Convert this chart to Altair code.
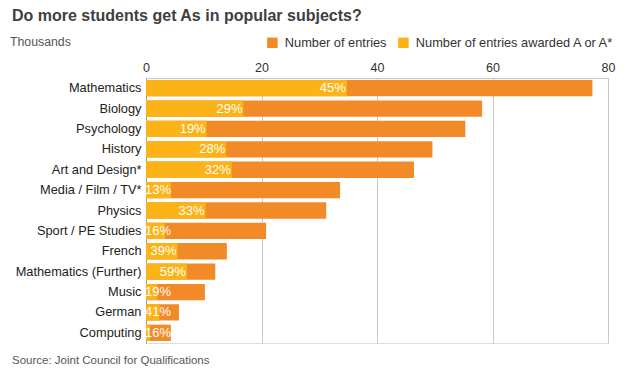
import altair as alt
import pandas as pd

subjects = ["Mathematics", "Biology", "Psychology", "History", "Art and Design*",
            "Media / Film / TV*", "Physics", "Sport / PE Studies", "French",
            "Mathematics (Further)", "Music", "German", "Computing"]
entries = [77.3, 58.2, 55.3, 49.6, 46.4, 33.6, 31.2, 20.8, 14.0, 12.0, 10.2, 5.7, 4.3]
pct_a = [45, 29, 19, 28, 32, 13, 33, 16, 39, 59, 19, 41, 16]
series = ["Number of entries", "Number of entries awarded A or A*"]
colors = ["#F28A27", "#FBB317"]
x_ticks = [0, 20, 40, 60, 80]

FONT = "Liberation Sans"

df = pd.DataFrame({"subject": subjects, "entries": entries, "pct": pct_a})
df["s_all"] = series[0]
df["s_a"] = series[1]

W, H = 462, 265

base = alt.Chart(df).transform_calculate(
    awarded="datum.entries * datum.pct / 100",
    labx="max(datum.entries * datum.pct / 100, 4.5)",
    lab="datum.pct + '%'",
)

yenc = alt.Y("subject:N", sort=subjects, title=None,
             scale=alt.Scale(paddingInner=0.2, paddingOuter=0.1),
             axis=alt.Axis(labelFont=FONT, labelFontSize=12.8, labelColor="#222222",
                           labelPadding=5, ticks=False, domainColor="#9a9a9a",
                           labelLimit=200))
xscale = alt.Scale(domain=[0, 80], nice=False)
xenc_axis = alt.Axis(orient="top", values=x_ticks, labelFont=FONT, labelFontSize=12.5,
                     labelColor="#333333", ticks=False, labelPadding=4,
                     grid=True, gridColor="#c8c8c8", domainColor="#c8c8c8",
                     labelFlush=False)
cscale = alt.Scale(domain=series, range=colors)
legend = alt.Legend(orient="none", legendX=120, legendY=-42, direction="horizontal",
                    title=None, symbolType="square", symbolSize=110,
                    symbolStrokeWidth=0, labelFont=FONT, labelFontSize=12.8,
                    labelColor="#333333", columnPadding=10, labelOffset=6,
                    labelLimit=400)

bars_all = base.mark_bar().encode(
    x=alt.X("entries:Q", scale=xscale, axis=xenc_axis, title=None),
    y=yenc,
    color=alt.Color("s_all:N", scale=cscale, legend=legend),
)
bars_a = base.mark_bar().encode(
    x=alt.X("awarded:Q", scale=xscale),
    y=alt.Y("subject:N", sort=subjects),
    color=alt.Color("s_a:N", scale=cscale, legend=legend),
)
labels = base.mark_text(align="right", baseline="middle", dx=-1, font=FONT,
                        fontSize=13, color="#ffffff").encode(
    x=alt.X("labx:Q", scale=xscale),
    y=alt.Y("subject:N", sort=subjects),
    text="lab:N",
)

title_df = pd.DataFrame({"t": ["Do more students get As in popular subjects?"]})
title = alt.Chart(title_df).mark_text(align="left", baseline="alphabetic", font=FONT,
                                       fontSize=16, fontWeight="bold",
                                       color="#404040").encode(
    x=alt.value(-134), y=alt.value(-57), text="t:N")
unit_df = pd.DataFrame({"t": ["Thousands"]})
unit = alt.Chart(unit_df).mark_text(align="left", baseline="middle", font=FONT,
                                     fontSize=12.3, color="#555555").encode(
    x=alt.value(-136), y=alt.value(-36), text="t:N")
src_df = pd.DataFrame({"t": ["Source: Joint Council for Qualifications"]})
src = alt.Chart(src_df).mark_text(align="left", baseline="middle", font=FONT,
                                   fontSize=11.5, color="#555555").encode(
    x=alt.value(-134), y=alt.value(H + 18), text="t:N")

chart = alt.layer(bars_all, bars_a, labels, title, unit, src).properties(
    width=W, height=H,
    autosize=alt.AutoSizeParams(type="none"),
    padding={"left": 138, "top": 70, "right": 8, "bottom": 26},
).configure_view(stroke=None).configure(background="#ffffff")

chart.save("out.html", embed_options={"renderer": "svg", "actions": False})
